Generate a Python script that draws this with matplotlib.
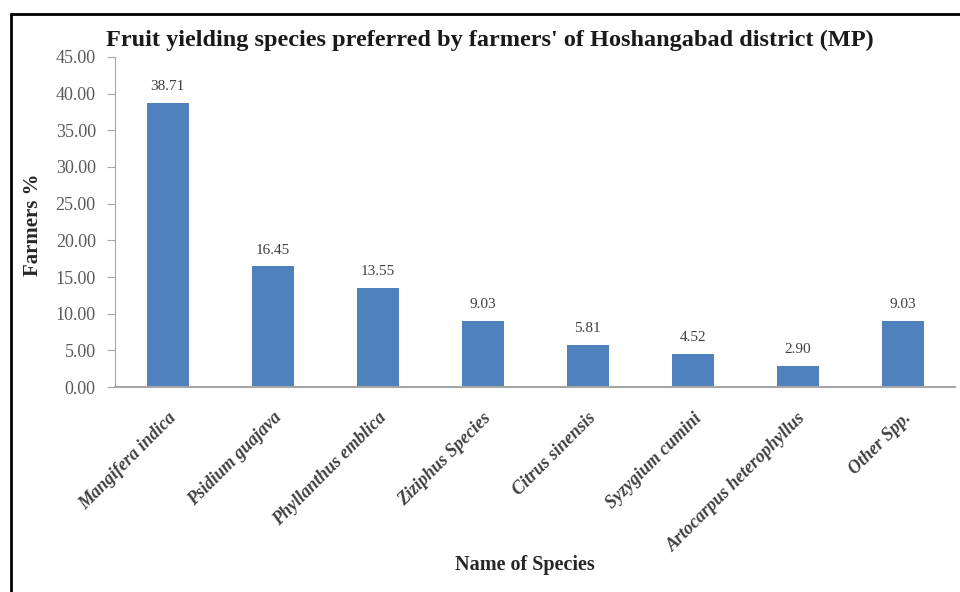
import matplotlib.pyplot as plt
from matplotlib.patches import Rectangle

# data
species = ['Mangifera indica', 'Psidium guajava', 'Phyllanthus emblica',
           'Ziziphus Species', 'Citrus sinensis', 'Syzygium cumini',
           'Artocarpus heterophyllus', 'Other Spp.']
farmers_pct = [38.71, 16.45, 13.55, 9.03, 5.81, 4.52, 2.90, 9.03]
yticks = [0, 5, 10, 15, 20, 25, 30, 35, 40, 45]

plt.rcParams['font.family'] = ['Liberation Serif', 'DejaVu Serif']

fig = plt.figure(figsize=(9.6, 5.92), dpi=100)
ax = fig.add_axes([0.12, 0.346, 0.875, 0.558])

x = range(len(species))
bars = ax.bar(x, farmers_pct, width=0.4, color='#4F81BD', zorder=2)

for rect, v in zip(bars, farmers_pct):
    ax.text(rect.get_x() + rect.get_width() / 2, v + 1.3, f'{v:.2f}',
            ha='center', va='bottom', fontsize=11, color='#404040')

ax.set_xlim(-0.5, len(species) - 0.5)
ax.set_ylim(0, 45)
ax.set_yticks(yticks)
ax.set_yticklabels([f'{t:.2f}' for t in yticks], fontsize=13, color='#595959')
ax.set_xticks(list(x))
ax.set_xticklabels(species, rotation=45, ha='right', va='top',
                   rotation_mode='anchor', fontsize=13, fontweight='bold',
                   style='italic', color='#404040')
ax.tick_params(axis='x', length=0, pad=16)
ax.tick_params(axis='y', length=6, color='#A6A6A6', pad=8)

for s in ['top', 'right']:
    ax.spines[s].set_visible(False)
ax.spines['left'].set_color('#A6A6A6')
ax.spines['bottom'].set_color('#A6A6A6')
ax.spines['bottom'].set_linewidth(1.5)

fig.text(0.034, 0.62, 'Farmers %', ha='center', va='center', rotation=90,
         fontsize=15, fontweight='bold', color='#262626')
fig.text(0.547, 0.046, 'Name of Species', ha='center', va='center',
         fontsize=14.5, fontweight='bold', color='#262626')
fig.text(0.51, 0.932, "Fruit yielding species preferred by farmers' of Hoshangabad district (MP)",
         ha='center', va='center', fontsize=17.5, fontweight='bold', color='#1a1a1a')

# outer frame around the chart
fig.patches.append(Rectangle((0.011, -0.1), 1.1, 1.076, transform=fig.transFigure,
                             fill=False, edgecolor='black', linewidth=2))

fig.savefig('out.png', dpi=100)
